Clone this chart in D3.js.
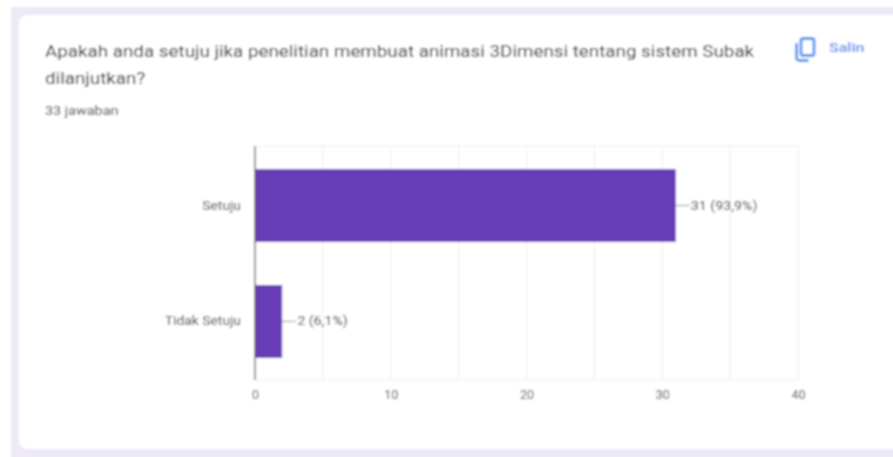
<!DOCTYPE html>
<html>
<head>
<meta charset="utf-8">
<script src="https://cdn.jsdelivr.net/npm/d3@7"></script>
<style>
  html, body { margin: 0; padding: 0; background: #fff; overflow: hidden; }
  text { font-family: Roboto, sans-serif; }
</style>
</head>
<body>
<div class="chart"></div>
<script>
// Data
var categories = ["Setuju", "Tidak Setuju"];
var counts = [31, 2];
var valueLabels = ["31 (93,9%)", "2 (6,1%)"];
var ticks = [0, 10, 20, 30, 40];
var gridValues = [5, 10, 15, 20, 25, 30, 35, 40];
var titleLines = [
  "Apakah anda setuju jika penelitian membuat animasi 3Dimensi tentang sistem Subak",
  "dilanjutkan?"
];
var subtitle = "33 jawaban";
var copyLabel = "Salin";

// Configuration
var width = 893;
var height = 457;
var barColor = "#673ab7";
var textColor = "#444";

// the screenshot was stretched sideways, so text runs wider than its height
function stretch(sel, factor) {
  sel.each(function() {
    var len = this.getComputedTextLength();
    d3.select(this)
      .attr("textLength", len * factor)
      .attr("lengthAdjust", "spacingAndGlyphs");
  });
}

var svg = d3.select(".chart").append("svg")
    .attr("width", width)
    .attr("height", height)
    .style("display", "block");

// the reference is a soft, upscaled screenshot
var defs = svg.append("defs");
defs.append("filter").attr("id", "soft")
    .attr("x", "-5%").attr("y", "-5%")
    .attr("width", "110%").attr("height", "110%")
  .append("feGaussianBlur").attr("stdDeviation", 1);

var root = svg.append("g").style("filter", "url(#soft)");

// page background + card
root.append("rect").attr("x", 11).attr("y", 7)
    .attr("width", width).attr("height", height)
    .attr("fill", "#ede9f6");
root.append("rect").attr("x", 19).attr("y", 15)
    .attr("width", width).attr("height", 434)
    .attr("rx", 8)
    .attr("fill", "#fff");

// heading
root.selectAll(".title")
    .data(titleLines)
    .enter().append("text")
    .attr("class", "title")
    .attr("x", 45)
    .attr("y", function(d, i) { return 57 + i * 27; })
    .attr("font-size", 17)
    .attr("fill", "#2b2b2b")
    .text(function(d) { return d; })
    .call(stretch, 1.105);

root.append("text")
    .attr("x", 45)
    .attr("y", 114.5)
    .attr("font-size", 12.5)
    .attr("fill", "#333")
    .text(subtitle)
    .call(stretch, 1.15);

// copy button
var copyIcon = root.append("g").attr("fill", "none").attr("stroke", "#4d94ee").attr("stroke-width", 2.8);
copyIcon.append("rect").attr("x", 801).attr("y", 38.5).attr("width", 13).attr("height", 17).attr("rx", 2);
copyIcon.append("path").attr("d", "M796.5 43v14.5a3 3 0 0 0 3 3h9");
root.append("text")
    .attr("x", 829)
    .attr("y", 51.5)
    .attr("font-size", 12.5)
    .attr("font-weight", 500)
    .attr("fill", "#4d86e8")
    .text(copyLabel)
    .call(stretch, 1.28);

// scales
var x = d3.scaleLinear().domain([0, 40]).range([255, 798]);
var y = d3.scaleBand().domain(categories).range([147.5, 379.5])
    .paddingInner(0.371).paddingOuter(0.186);

// grid
root.selectAll(".grid")
    .data(gridValues)
    .enter().append("line")
    .attr("class", "grid")
    .attr("x1", function(d) { return x(d); })
    .attr("x2", function(d) { return x(d); })
    .attr("y1", 146)
    .attr("y2", 380)
    .attr("stroke", "#ececec");
root.append("line")
    .attr("x1", 255).attr("x2", 798)
    .attr("y1", 146).attr("y2", 146)
    .attr("stroke", "#ececec");
root.append("line")
    .attr("x1", 255).attr("x2", 798)
    .attr("y1", 380).attr("y2", 380)
    .attr("stroke", "#ececec");

// bars
root.selectAll(".bar")
    .data(categories)
    .enter().append("rect")
    .attr("class", "bar")
    .attr("x", x(0))
    .attr("y", function(d) { return y(d); })
    .attr("width", function(d, i) { return x(counts[i]) - x(0); })
    .attr("height", y.bandwidth())
    .attr("fill", barColor);

// baseline
root.append("line")
    .attr("x1", x(0)).attr("x2", x(0))
    .attr("y1", 146).attr("y2", 380)
    .attr("stroke", "#555")
    .attr("stroke-width", 1.3);

// x axis labels
var xAxis = d3.axisBottom(x).tickValues(ticks).tickSize(0).tickPadding(10);
var xAxisG = root.append("g").attr("transform", "translate(0,380)").call(xAxis);
xAxisG.select(".domain").remove();
xAxisG.selectAll("text")
    .attr("font-size", 12.5)
    .style("font-family", "Roboto, sans-serif")
    .attr("fill", "#444");

// y axis labels
var yAxis = d3.axisLeft(y).tickSize(0).tickPadding(14);
var yAxisG = root.append("g").attr("transform", "translate(255,0)").call(yAxis);
yAxisG.select(".domain").remove();
yAxisG.selectAll("text")
    .attr("font-size", 12.5)
    .style("font-family", "Roboto, sans-serif")
    .attr("fill", "#333")
    .call(stretch, 1.11);

// value annotations
root.selectAll(".leader")
    .data(categories)
    .enter().append("line")
    .attr("class", "leader")
    .attr("x1", function(d, i) { return x(counts[i]); })
    .attr("x2", function(d, i) { return x(counts[i]) + 14; })
    .attr("y1", function(d) { return y(d) + y.bandwidth() / 2; })
    .attr("y2", function(d) { return y(d) + y.bandwidth() / 2; })
    .attr("stroke", "#888");

root.selectAll(".value")
    .data(categories)
    .enter().append("text")
    .attr("class", "value")
    .attr("x", function(d, i) { return x(counts[i]) + 15; })
    .attr("y", function(d) { return y(d) + y.bandwidth() / 2 + 4; })
    .attr("font-size", 12.5)
    .attr("fill", "#333")
    .text(function(d, i) { return valueLabels[i]; })
    .call(stretch, 1.14);
</script>
</body>
</html>
